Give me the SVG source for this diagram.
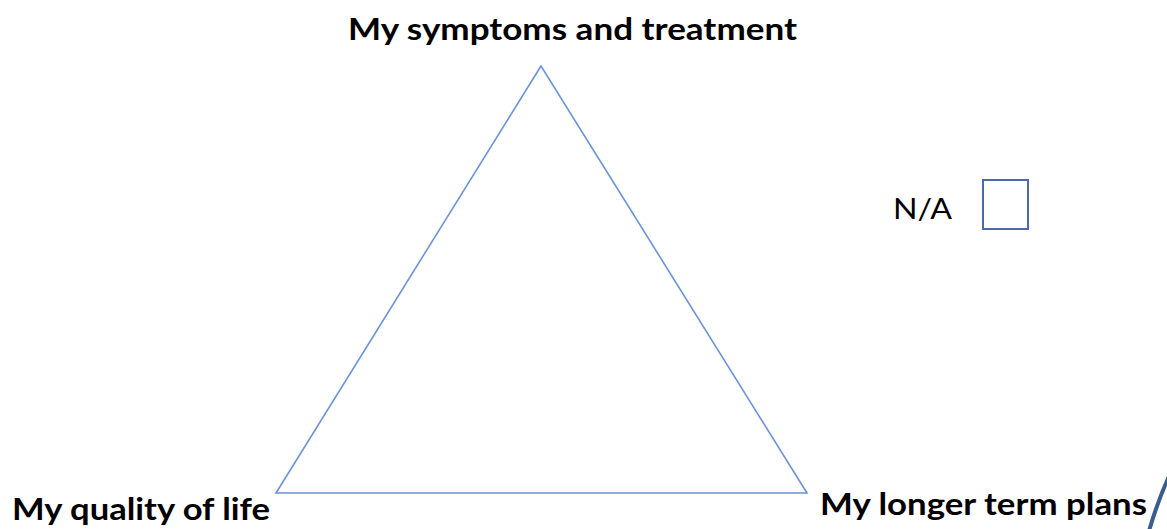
<svg xmlns="http://www.w3.org/2000/svg" width="1167" height="529" viewBox="0 0 1167 529">
  <style>
    .lbl { font-family: Lato, "Open Sans", "Liberation Sans", sans-serif; font-weight: bold; font-size: 31px; fill: #000; }
    .na { font-family: Lato, "Open Sans", "Liberation Sans", sans-serif; font-size: 29px; fill: #000; }
    .tri { fill: none; stroke: #6b93d6; stroke-width: 1.6; }
    .box { fill: #fff; stroke: #4a6ba8; stroke-width: 2; }
  </style>
  <rect width="1167" height="529" fill="#fff"/>
  <g id="triangle">
    <polygon class="tri" points="541,66 276,493 807,493"/>
  </g>
  <g id="node-top">
    <text class="lbl" x="348" y="40" textLength="449" lengthAdjust="spacingAndGlyphs">My symptoms and treatment</text>
  </g>
  <g id="node-left">
    <text class="lbl" x="12" y="520" textLength="258" lengthAdjust="spacingAndGlyphs">My quality of life</text>
  </g>
  <g id="node-right">
    <text class="lbl" x="820" y="515" textLength="327" lengthAdjust="spacingAndGlyphs">My longer term plans</text>
  </g>
  <g id="na-option">
    <text class="na" x="893" y="219" textLength="59" lengthAdjust="spacingAndGlyphs">N/A</text>
    <rect class="box" x="983" y="180" width="45" height="49"/>
  </g>
  <g id="edge-arc">
    <path d="M1170,474 Q1158,500 1149,531" fill="none" stroke="#3b5c8f" stroke-width="4"/>
  </g>
</svg>
